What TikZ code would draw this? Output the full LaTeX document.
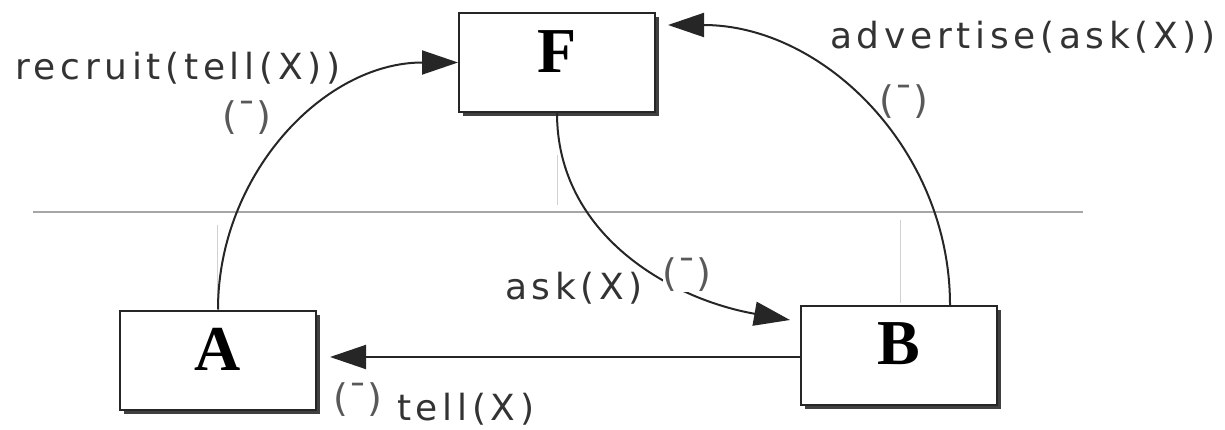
\documentclass[tikz,border=0pt]{standalone}
\usepackage{fontspec}
\usetikzlibrary{arrows.meta,shadows,calc}
\newfontfamily\lblfont[LetterSpace=13]{DejaVu Sans}
\newfontfamily\symfont{DejaVu Sans}
\newfontfamily\boxfont{Liberation Serif}
\begin{document}
\begin{tikzpicture}[x=1pt,y=1pt,
  agentbox/.style={draw=black!85, line width=2pt, fill=white,
    minimum width=196pt, minimum height=99pt, inner sep=0pt,
    font=\boxfont\bfseries\fontsize{64}{64}\selectfont, text depth=22pt,
    drop shadow={shadow xshift=4pt, shadow yshift=-4pt, fill=black!75, opacity=1}},
  conn/.style={line width=2pt, draw=black!85, -{Triangle[length=36pt,width=24pt]}},
  lbl/.style={inner sep=0pt, anchor=west, text=black!80, font=\lblfont\fontsize{36}{36}\selectfont},
  sym/.style={inner sep=0pt, text=black!65, font=\symfont\fontsize{38}{38}\selectfont},
  guide/.style={draw=black!35, line width=1.5pt},
  faint/.style={draw=black!18, line width=1pt}]
\useasboundingbox (0,0) rectangle (1225,429);
% scan guide lines
\draw[guide] (33,217) -- (1083,217);
\draw[faint] (217,204) -- (217,129);
\draw[faint] (557,274) -- (557,224);
\draw[faint] (900,209) -- (900,126);
% boxes
\node[agentbox] (F) at (557,366.5) {F};
\node[agentbox] (A) at (218,69) {A};
\node[agentbox] (B) at (899,74) {B};
% connector end points
\coordinate (Fr) at (668,404);
\coordinate (Bt) at (950,124);
\coordinate (Bin) at (790,109);
% connectors
\draw[conn] (A.north) to[out=90,in=180] (F.west);
\draw[conn] (Bt) to[out=90,in=0] (Fr);
\draw[conn] (F.south) to[out=-90,in=170] (Bin);
\draw[conn, shorten >=13pt] ([yshift=-2pt]B.west) -- ([yshift=-2pt]B.west -| A.east);
% labels
\node[lbl] (l1) at (15,361) {recruit(tell(X))};
\node[lbl] (l2) at (830,392) {advertise(ask(X))};
\node[lbl] (l3) at (505,141) {ask(X)};
\node[lbl] (l4) at (397,20) {tell(X)};
\node[sym] (s1) at (247,311) {(¯)};
\node[sym] (s2) at (904,327) {(¯)};
\node[sym, fill=white] (s3) at (687,154) {(¯)};
\node[sym] (s4) at (358,29) {(¯)};
\end{tikzpicture}
\end{document}
